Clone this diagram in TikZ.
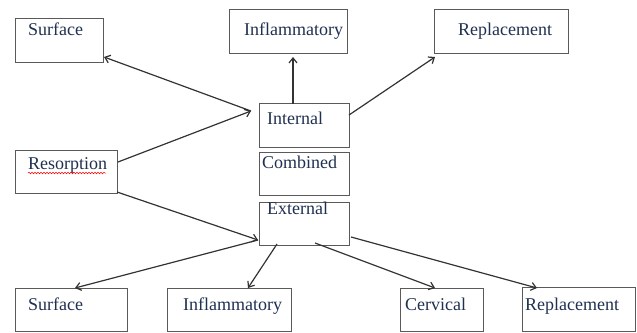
\documentclass[tikz,border=0pt]{standalone}
\usepackage{fontspec}
\setmainfont{Liberation Serif}
\usetikzlibrary{arrows.meta,decorations.pathmorphing}
\definecolor{txt}{HTML}{1F3050}
\definecolor{edge}{HTML}{5A5A5A}
\definecolor{ln}{HTML}{333333}
\begin{document}
\begin{tikzpicture}[x=1pt,y=-1pt,
  box/.style={draw=edge,line width=1.3pt,rectangle,inner sep=0pt,anchor=north west},
  lbl/.style={text=txt,inner sep=0pt,anchor=base west,font=\fontsize{18}{20}\selectfont},
  conn/.style={draw=ln,line width=1.2pt,-{Straight Barb[length=5pt,width=8pt,line width=1.2pt]}}]
\useasboundingbox (0,0) rectangle (637,332);
% boxes
\node[box,minimum width=88pt,minimum height=44pt] (surfT) at (15,18) {};
\node[box,minimum width=118pt,minimum height=44pt] (inflT) at (229,9) {};
\node[box,minimum width=134pt,minimum height=44pt] (replT) at (434,9) {};
\node[box,minimum width=90pt,minimum height=44pt] (int) at (259,103) {};
\node[box,minimum width=102pt,minimum height=43pt] (res) at (15,150) {};
\node[box,minimum width=90pt,minimum height=43pt] (comb) at (259,152) {};
\node[box,minimum width=90pt,minimum height=43pt] (ext) at (259,202) {};
\node[box,minimum width=112pt,minimum height=43pt] (surfB) at (15,288) {};
\node[box,minimum width=124pt,minimum height=43pt] (inflB) at (167,288) {};
\node[box,minimum width=83pt,minimum height=43pt] (cerv) at (400,288) {};
\node[box,minimum width=113pt,minimum height=44pt] (replB) at (522,287) {};
% texts
\node[lbl] (surfTt) at (28,35) {Surface};
\node[lbl] (inflTt) at (244,35) {Inflammatory};
\node[lbl] (replTt) at (458,35) {Replacement};
\node[lbl] (intt) at (267,124) {Internal};
\node[lbl] (rest) at (28,169) {Resorption};
\node[lbl] (combt) at (262,168) {Combined};
\node[lbl] (extt) at (267,214) {External};
\node[lbl] (surfBt) at (28,310) {Surface};
\node[lbl] (inflBt) at (183,310) {Inflammatory};
\node[lbl] (cervt) at (405,310) {Cervical};
\node[lbl] (replBt) at (525,310) {Replacement};
\draw[red,line width=0.5pt,decorate,decoration={snake,amplitude=0.8pt,segment length=3pt}]
  (28,173) -- (106,173);
% connector end points
\coordinate (iIn) at (251,111);
\coordinate (eIn) at (258,240);
\coordinate (iTop) at (293,104);
\coordinate (iRt) at (349,115);
\coordinate (rTop) at (118,162);
\coordinate (rBot) at (117,192);
\coordinate (eB1) at (277,244);
\coordinate (eB2) at (315,243);
\coordinate (eRt) at (351,237);
\coordinate (sT) at (104,57);
\coordinate (fT) at (293,57);
\coordinate (pT) at (435,57);
\coordinate (sB) at (75,288);
\coordinate (fB) at (248,288);
\coordinate (cB) at (435,288);
\coordinate (pB) at (537,288);
% connectors
\draw[conn] (rTop) -- (iIn);
\draw[conn] (iIn) -- (sT);
\draw[conn] (iTop) -- (fT);
\draw[conn] (iRt) -- (pT);
\draw[conn] (rBot) -- (eIn);
\draw[conn] (eIn) -- (sB);
\draw[conn] (eB1) -- (fB);
\draw[conn] (eB2) -- (cB);
\draw[conn] (eRt) -- (pB);
\end{tikzpicture}
\end{document}
